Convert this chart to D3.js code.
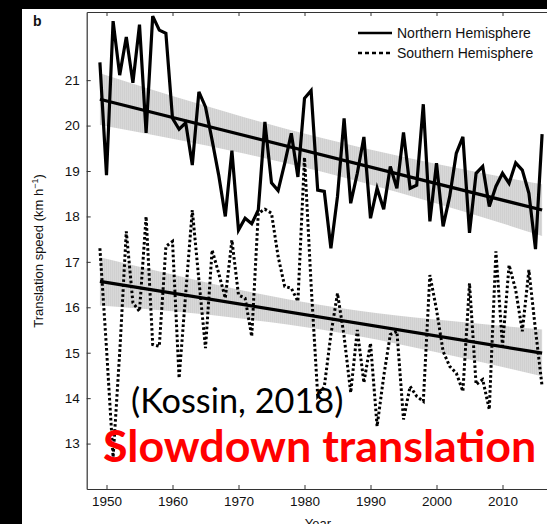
<!DOCTYPE html>
<html>
<head>
<meta charset="utf-8">
<script src="https://cdn.jsdelivr.net/npm/d3@7"></script>
<style>
  html, body { margin: 0; padding: 0; background: #000; }
  svg { display: block; }
</style>
</head>
<body>
<svg id="chart" width="547" height="524"></svg>
<script>
// ---------------- data ----------------
const years = d3.range(1949, 2017);
const northern = [
  21.39, 18.91, 22.30, 21.11, 21.95, 20.94, 22.22, 19.84, 22.41, 22.10,
  22.03, 20.16, 19.92, 20.06, 19.13, 20.74, 20.41, 19.68, 18.91, 18.00,
  19.45, 17.70, 17.96, 17.84, 18.14, 20.08, 18.74, 18.57, 19.17, 19.83,
  18.87, 20.60, 20.77, 18.58, 18.55, 17.30, 18.44, 20.16, 18.29, 18.95,
  19.75, 17.96, 18.62, 18.16, 19.10, 18.62, 19.85, 18.62, 18.69, 20.47,
  17.89, 19.17, 17.78, 18.44, 19.39, 19.75, 17.64, 18.95, 19.10, 18.22,
  18.66, 18.95, 18.73, 19.18, 19.02, 18.51, 17.28, 19.81
];
const southern = [
  17.30, 15.10, 12.70, 15.00, 17.67, 16.10, 15.91, 18.00, 15.18, 15.14,
  17.34, 17.45, 14.44, 16.30, 18.14, 16.60, 15.10, 17.26, 16.75, 16.20,
  17.48, 16.27, 16.20, 15.36, 18.07, 18.16, 18.07, 17.12, 16.46, 16.42,
  16.13, 19.30, 16.50, 14.05, 14.25, 15.40, 16.31, 15.36, 14.12, 15.50,
  14.34, 15.21, 13.38, 14.48, 15.40, 15.47, 13.53, 14.26, 14.04, 13.93,
  16.71, 15.95, 15.03, 14.70, 14.55, 14.15, 16.53, 14.30, 14.41, 13.75,
  17.23, 15.14, 16.93, 16.38, 15.47, 16.82, 15.50, 14.26
];
// linear trends (start / end) and confidence bands
const trendYears = [1949, 2016];
const northernTrend = [20.58, 18.14];
const southernTrend = [16.57, 14.99];
const bandYears = [1949, 1960, 1971, 1982.5, 1994, 2005, 2016];
const northernUpper = [21.15, 20.65, 20.18, 19.73, 19.34, 19.01, 18.71];
const northernLower = [20.01, 19.71, 19.38, 18.99, 18.54, 18.07, 17.57];
const southernUpper = [17.10, 16.72, 16.36, 16.05, 15.82, 15.66, 15.51];
const southernLower = [16.04, 15.91, 15.74, 15.51, 15.20, 14.85, 14.48];
const xTicks = [1950, 1960, 1970, 1980, 1990, 2000, 2010];
const yTicks = [13, 14, 15, 16, 17, 18, 19, 20, 21];
const legendLabels = ["Northern Hemisphere", "Southern Hemisphere"];

// ---------------- layout ----------------
const svg = d3.select("#chart");
const W = 547, H = 524;
const L = 86.7, T = 12, B = 489, R = 561.9;

svg.append("rect").attr("x", 0).attr("y", 0).attr("width", W).attr("height", H).attr("fill", "#000");
svg.append("rect").attr("x", 22).attr("y", 9).attr("width", W - 22).attr("height", H - 9).attr("fill", "#fff");

const x = d3.scaleLinear().domain([1947, 2019]).range([L, R]);
const y = d3.scaleLinear().domain([12, 22.5]).range([B, T]);

// band hatch pattern (very faint vertical texture)
const defs = svg.append("defs");
const pat = defs.append("pattern").attr("id", "hatch").attr("patternUnits", "userSpaceOnUse")
  .attr("width", 2).attr("height", 4);
pat.append("rect").attr("width", 2).attr("height", 4).attr("fill", "#d8d8d8");
pat.append("rect").attr("width", 1).attr("height", 4).attr("fill", "#d0d0d0");

defs.append("clipPath").attr("id", "plotclip").append("rect")
  .attr("x", L).attr("y", T).attr("width", R - L).attr("height", B - T);

const plot = svg.append("g").attr("clip-path", "url(#plotclip)");

const area = d3.area()
  .x(d => x(d[0])).y0(d => y(d[1])).y1(d => y(d[2]))
  .curve(d3.curveMonotoneX);

plot.append("path").datum(bandYears.map((yr, i) => [yr, northernLower[i], northernUpper[i]]))
  .attr("d", area).attr("fill", "url(#hatch)");
plot.append("path").datum(bandYears.map((yr, i) => [yr, southernLower[i], southernUpper[i]]))
  .attr("d", area).attr("fill", "url(#hatch)");

const line = d3.line().x(d => x(d[0])).y(d => y(d[1]));

// data lines
plot.append("path").datum(years.map((yr, i) => [yr, southern[i]]))
  .attr("d", line).attr("fill", "none").attr("stroke", "#000")
  .attr("stroke-width", 3).attr("stroke-dasharray", "2.6,2.4");
plot.append("path").datum(years.map((yr, i) => [yr, northern[i]]))
  .attr("d", line).attr("fill", "none").attr("stroke", "#000")
  .attr("stroke-width", 3.2).attr("stroke-linejoin", "miter");

// trend lines
plot.append("path").datum(trendYears.map((yr, i) => [yr, northernTrend[i]]))
  .attr("d", line).attr("fill", "none").attr("stroke", "#000").attr("stroke-width", 3.2);
plot.append("path").datum(trendYears.map((yr, i) => [yr, southernTrend[i]]))
  .attr("d", line).attr("fill", "none").attr("stroke", "#000").attr("stroke-width", 3.2);

// ---------------- axes ----------------
const axisColor = "#333";
const font = "'Liberation Sans', Arial, Helvetica, sans-serif";

const xAxis = svg.append("g").attr("transform", `translate(0,${B})`)
  .call(d3.axisBottom(x).tickValues(xTicks).tickFormat(d3.format("d"))
    .tickSizeInner(-4).tickSizeOuter(0).tickPadding(7));
const xTop = svg.append("g").attr("transform", `translate(0,${T})`)
  .call(d3.axisTop(x).tickValues(xTicks).tickFormat("")
    .tickSizeInner(-4).tickSizeOuter(0));
const yAxis = svg.append("g").attr("transform", `translate(${L},0)`)
  .call(d3.axisLeft(y).tickValues(yTicks).tickFormat(d3.format("d"))
    .tickSizeInner(-4).tickSizeOuter(0).tickPadding(7));

[xAxis, xTop, yAxis].forEach(g => {
  g.select(".domain").attr("stroke", axisColor).attr("stroke-width", 1.2);
  g.selectAll(".tick line").attr("stroke", axisColor).attr("stroke-width", 1);
  g.selectAll(".tick text").attr("fill", "#111").attr("font-size", 13.5).attr("font-family", font);
});

// axis titles
svg.append("text").attr("x", 318).attr("y", 528).attr("text-anchor", "middle")
  .attr("font-family", font).attr("font-size", 13).attr("fill", "#111").text("Year");

const yl = svg.append("text").attr("transform", "translate(43,251) rotate(-90)")
  .attr("text-anchor", "middle").attr("font-family", font).attr("font-size", 13).attr("fill", "#111");
yl.append("tspan").text("Translation speed (km h");
yl.append("tspan").attr("font-size", 9).attr("dy", -5).text("\u22121");
yl.append("tspan").attr("dy", 5).text(")");

// panel label
svg.append("text").attr("x", 33).attr("y", 26).attr("font-family", font)
  .attr("font-weight", "bold").attr("font-size", 14).attr("fill", "#111").text("b");

// legend
const lg = svg.append("g");
legendLabels.forEach((lab, i) => {
  const ly = 33 + i * 20;
  lg.append("line").attr("x1", 358).attr("x2", 392).attr("y1", ly).attr("y2", ly)
    .attr("stroke", "#000").attr("stroke-width", i === 0 ? 2.4 : 2.6)
    .attr("stroke-dasharray", i === 0 ? null : "4,3");
  lg.append("text").attr("x", 397).attr("y", ly + 5).attr("font-family", font)
    .attr("font-size", 14).attr("fill", "#111").text(lab);
});

// annotations
svg.append("text").attr("x", 131).attr("y", 413).attr("font-family", "Lato, 'Open Sans', sans-serif")
  .attr("font-size", 34.3).attr("fill", "#000").text("(Kossin, 2018)");
svg.append("text").attr("x", 103).attr("y", 462).attr("font-family", "Lato, 'Open Sans', sans-serif")
  .attr("font-weight", "bold").attr("font-size", 44.8).attr("fill", "#ff0000").text("Slowdown translation");
</script>
</body>
</html>
